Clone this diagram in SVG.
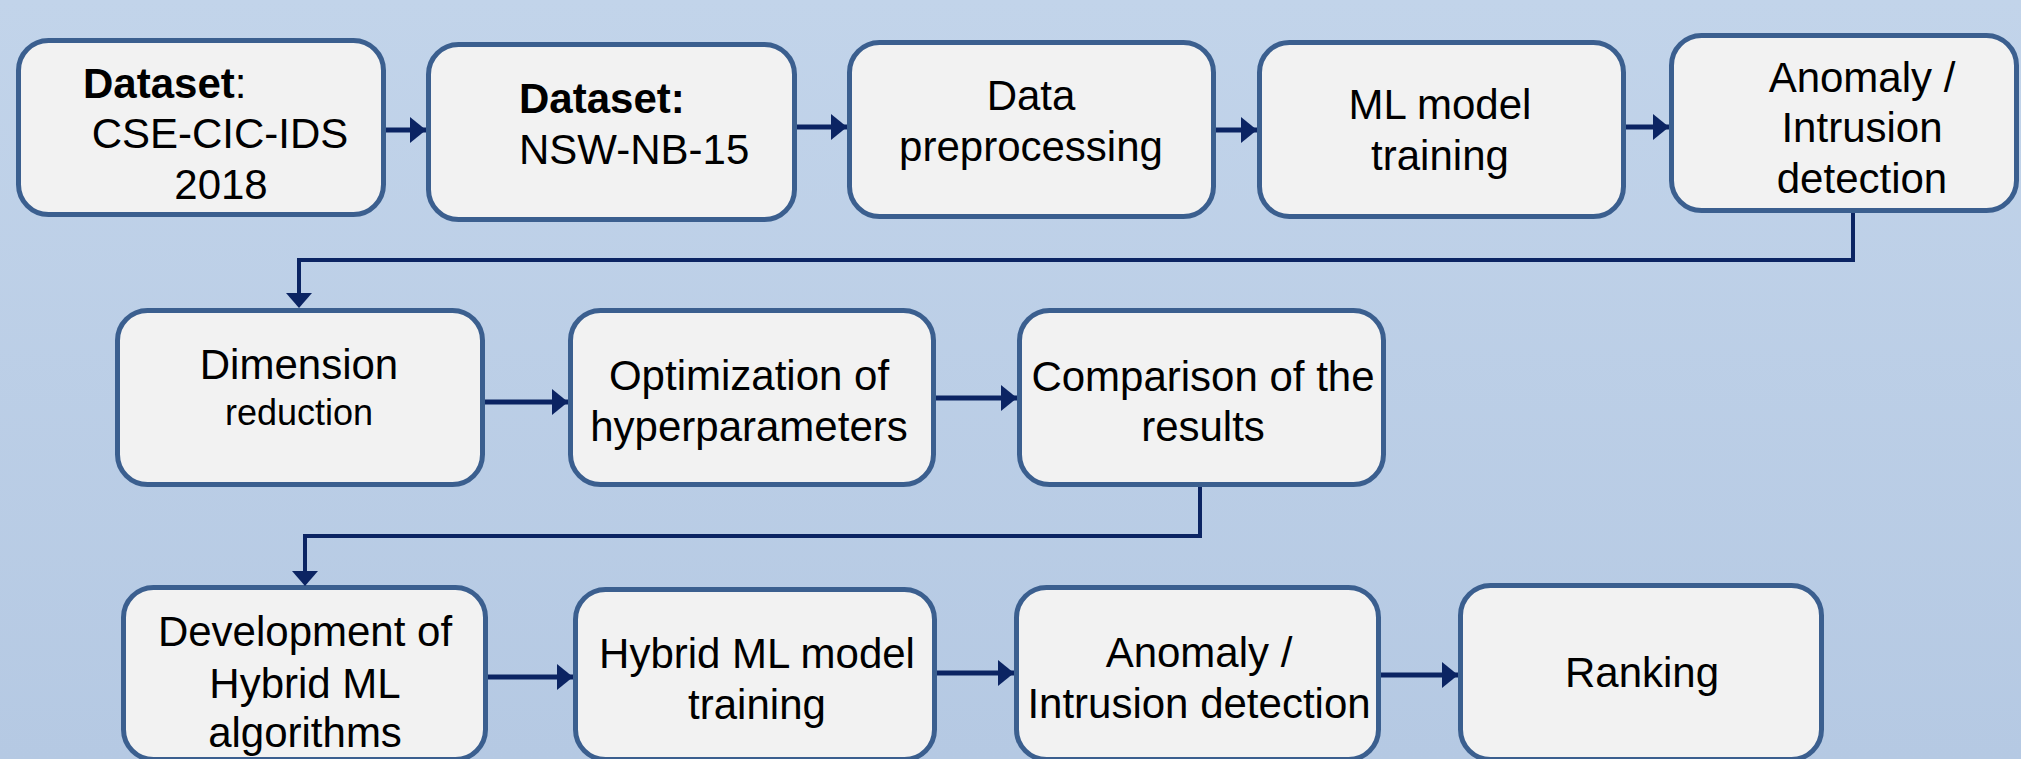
<svg xmlns="http://www.w3.org/2000/svg" width="2021" height="759" viewBox="0 0 2021 759">
<defs>
<linearGradient id="bg" x1="0" y1="0" x2="0" y2="1">
<stop offset="0" stop-color="#c2d4ea"/>
<stop offset="1" stop-color="#b5c9e3"/>
</linearGradient>
<marker id="ah" markerUnits="userSpaceOnUse" markerWidth="18" markerHeight="26" refX="16" refY="13" orient="auto">
<path d="M0,0 L16,13 L0,26 Z" fill="#0b2463"/>
</marker>
</defs>
<style>
.box{fill:#f2f2f2;stroke:#3b5f8f;stroke-width:5}
.t{font-family:"Liberation Sans",Arial,sans-serif;font-size:42px;fill:#000;text-anchor:middle}
.ts{font-size:36px}
.b{font-weight:bold}
.c{fill:none;stroke:#0b2463;stroke-width:4}
.ca{fill:none;stroke:#0b2463;stroke-width:5;marker-end:url(#ah)}
</style>
<rect x="0" y="0" width="2021" height="759" fill="url(#bg)"/>

<g id="n1">
<rect class="box" x="18.5" y="40.5" width="365" height="174" rx="30"/>
<text class="t" x="83" y="98" style="text-anchor:start"><tspan class="b">Dataset</tspan>:</text>
<text class="t" x="220" y="148">CSE-CIC-IDS</text>
<text class="t" x="221" y="199">2018</text>
</g>
<g id="n2">
<rect class="box" x="428.5" y="44.5" width="366" height="175" rx="30"/>
<text class="t b" x="519" y="113" style="text-anchor:start">Dataset:</text>
<text class="t" x="519" y="164" style="text-anchor:start">NSW-NB-15</text>
</g>
<g id="n3">
<rect class="box" x="849.5" y="42.5" width="364" height="174" rx="30"/>
<text class="t" x="1031" y="110">Data</text>
<text class="t" x="1031" y="161">preprocessing</text>
</g>
<g id="n4">
<rect class="box" x="1259.5" y="42.5" width="364" height="174" rx="30"/>
<text class="t" x="1440" y="119">ML model</text>
<text class="t" x="1440" y="170">training</text>
</g>
<g id="n5">
<rect class="box" x="1671.5" y="35.5" width="345" height="175" rx="30"/>
<text class="t" x="1862" y="92">Anomaly /</text>
<text class="t" x="1862" y="142">Intrusion</text>
<text class="t" x="1862" y="193">detection</text>
</g>

<g id="n6">
<rect class="box" x="117.5" y="310.5" width="365" height="174" rx="30"/>
<text class="t" x="299" y="379">Dimension</text>
<text class="t ts" x="299" y="425">reduction</text>
</g>
<g id="n7">
<rect class="box" x="570.5" y="310.5" width="363" height="174" rx="30"/>
<text class="t" x="749" y="390">Optimization of</text>
<text class="t" x="749" y="441">hyperparameters</text>
</g>
<g id="n8">
<rect class="box" x="1019.5" y="310.5" width="364" height="174" rx="30"/>
<text class="t" x="1203" y="391">Comparison of the</text>
<text class="t" x="1203" y="441">results</text>
</g>

<g id="n9">
<rect class="box" x="123.5" y="587.5" width="362" height="172" rx="30"/>
<text class="t" x="305" y="646">Development of</text>
<text class="t" x="305" y="698">Hybrid ML</text>
<text class="t" x="305" y="747">algorithms</text>
</g>
<g id="n10">
<rect class="box" x="575.5" y="589.5" width="359" height="170" rx="30"/>
<text class="t" x="757" y="668">Hybrid ML model</text>
<text class="t" x="757" y="719">training</text>
</g>
<g id="n11">
<rect class="box" x="1016.5" y="587.5" width="362" height="172" rx="30"/>
<text class="t" x="1199" y="667">Anomaly /</text>
<text class="t" x="1199" y="718">Intrusion detection</text>
</g>
<g id="n12">
<rect class="box" x="1460.5" y="585.5" width="361" height="174" rx="30"/>
<text class="t" x="1642" y="687">Ranking</text>
</g>

<g id="connectors">
<line class="ca" x1="386" y1="130" x2="426" y2="130"/>
<line class="ca" x1="797" y1="127" x2="847" y2="127"/>
<line class="ca" x1="1216" y1="130" x2="1257" y2="130"/>
<line class="ca" x1="1626" y1="127" x2="1669" y2="127"/>
<polyline class="c" points="1853,213 1853,260 299,260 299,293"/>
<path d="M286,293 L312,293 L299,308 Z" fill="#0b2463"/>
<line class="ca" x1="485" y1="402" x2="568" y2="402"/>
<line class="ca" x1="936" y1="398" x2="1017" y2="398"/>
<polyline class="c" points="1200,487 1200,536 305,536 305,571"/>
<path d="M292,571 L318,571 L305,586 Z" fill="#0b2463"/>
<line class="ca" x1="488" y1="677" x2="573" y2="677"/>
<line class="ca" x1="937" y1="673" x2="1014" y2="673"/>
<line class="ca" x1="1381" y1="675" x2="1458" y2="675"/>
</g>
</svg>
